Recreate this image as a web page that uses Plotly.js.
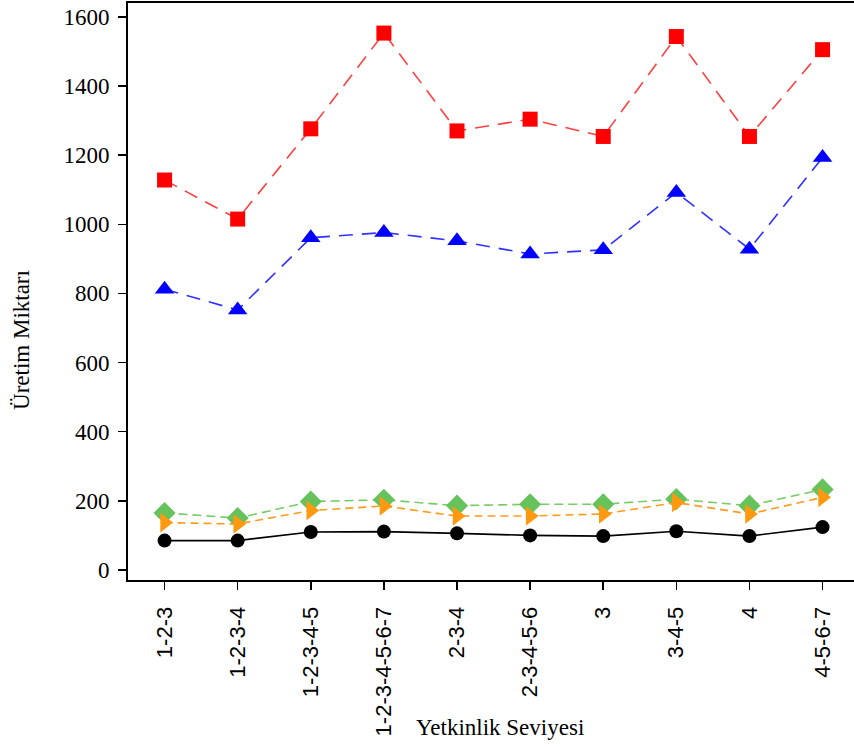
<!DOCTYPE html>
<html>
<head>
<meta charset="utf-8">
<script src="https://cdn.plot.ly/plotly-3.0.1.min.js"></script>
<style>
html,body{margin:0;padding:0;background:#fff;}
#chart{width:854px;height:747px;}
</style>
</head>
<body>
<div id="chart"></div>
<script>
var categories = ["1-2-3","1-2-3-4","1-2-3-4-5","1-2-3-4-5-6-7","2-3-4","2-3-4-5-6","3","3-4-5","4","4-5-6-7"];
var redValues = [1128, 1015, 1276, 1553, 1270, 1304, 1254, 1543, 1254, 1505];
var blueValues = [812, 752, 961, 976, 952, 914, 926, 1092, 928, 1193];
var greenValues = [165, 150, 198, 203, 186, 190, 190, 205, 186, 233];
var orangeValues = [137, 133, 172, 185, 156, 156, 162, 195, 162, 210];
var blackValues = [85, 85, 110, 111, 106, 100, 98, 112, 98, 124];
var yTicks = [0, 200, 400, 600, 800, 1000, 1200, 1400, 1600];

var serif = "Liberation Serif";
var sans = "Liberation Sans";
var yTickText = yTicks.map(function (v) {
  return '<span style="font-family:Liberation Serif">' + v + '</span>';
});

var traces = [
  {x: categories, y: redValues, type: 'scatter', mode: 'lines+markers',
   line: {color: '#ff4040', width: 1.6, dash: '14px,9px'},
   marker: {symbol: 'square', size: 15, color: '#ff0000'}},
  {x: categories, y: blueValues, type: 'scatter', mode: 'lines+markers',
   line: {color: '#3030ff', width: 1.6, dash: '14px,9px'},
   marker: {symbol: 'triangle-up', size: 17, color: '#0000ff'}},
  {x: categories, y: greenValues, type: 'scatter', mode: 'lines+markers',
   line: {color: '#77cc66', width: 1.6, dash: '9px,5px'},
   marker: {symbol: 'diamond', size: 17, color: '#66c25a'}},
  {x: categories, y: orangeValues, type: 'scatter', mode: 'lines+markers',
   line: {color: '#ff9a1a', width: 1.6, dash: '8px,5px'},
   marker: {symbol: 'triangle-right', size: 17, color: '#ff9a10'}},
  {x: categories, y: blackValues, type: 'scatter', mode: 'lines+markers',
   line: {color: '#000000', width: 1.6},
   marker: {symbol: 'circle', size: 14, color: '#000000'}}
];

var layout = {
  width: 854, height: 747,
  margin: {l: 128, r: 0, t: 3, b: 167},
  paper_bgcolor: '#ffffff', plot_bgcolor: '#ffffff',
  font: {family: serif, size: 23, color: '#000'},
  showlegend: false,
  xaxis: {
    type: 'category', range: [-0.5, 9.43],
    showline: true, linecolor: '#000', linewidth: 2, mirror: true,
    showgrid: false, zeroline: false,
    ticks: 'outside', ticklen: 8, tickcolor: '#000', tickwidth: 1.5,
    tickangle: -90, ticklabelstandoff: 8,
    tickfont: {family: sans, size: 22, color: '#000'}
  },
  yaxis: {
    range: [-29, 1640],
    tickmode: 'array', tickvals: yTicks, ticktext: yTickText,
    showline: true, linecolor: '#000', linewidth: 2,
    showgrid: false, zeroline: false,
    ticks: 'outside', ticklen: 8, tickcolor: '#000', tickwidth: 1.5,
    ticklabelstandoff: 4,
    tickfont: {family: serif, size: 23, color: '#000'}
  },
  annotations: [
    {text: 'Yetkinlik Seviyesi', xref: 'paper', yref: 'paper', x: 0.512, y: -0.2548,
     xanchor: 'center', yanchor: 'middle', showarrow: false,
     font: {family: serif, size: 23, color: '#000'}},
    {text: 'Üretim Miktarı', xref: 'paper', yref: 'paper', x: -0.146, y: 0.416,
     xanchor: 'center', yanchor: 'middle', showarrow: false, textangle: -90,
     font: {family: serif, size: 23, color: '#000'}}
  ]
};

Plotly.newPlot('chart', traces, layout, {displayModeBar: false, staticPlot: true});
</script>
</body>
</html>
